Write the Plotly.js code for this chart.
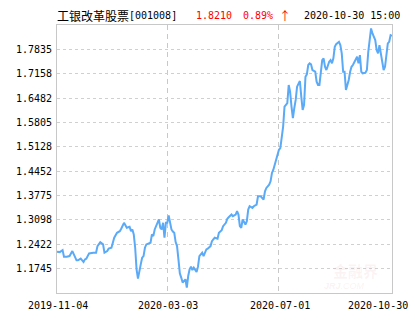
<!DOCTYPE html>
<html>
<head>
<meta charset="utf-8">
<script src="https://cdn.plot.ly/plotly-3.0.1.min.js"></script>
<style>html,body{margin:0;padding:0;background:#fff;}#chart{width:415px;height:330px;}</style>
</head>
<body>
<div id="chart"></div>
<script>
// trading-day index (0 = 2019-11-04, 240 = 2020-10-30)
const days = [0,2,4,5,7,9,11,12,14,15,17,19,20,21,23,26,28,29,31,33,34,36,37,39,40,41,43,45,46,48,50,52,53,54,55,56,57,58,60,61,62,63,64,66,67,68,69,70,72,73,74,75,76,77,78,79,80,81,82,83,84,85,86,87,88,89,90,92,93,94,95,96,97,98,100,101,102,104,105,107,108,110,111,112,113,115,116,118,119,121,122,123,125,126,128,129,130,131,132,133,135,136,137,138,140,141,143,144,146,148,149,150,152,153,154,155,157,158,159,160,161,162,163,165,166,167,168,169,170,171,172,174,175,176,177,178,179,180,181,182,183,185,186,187,188,189,190,191,192,193,195,196,197,198,199,200,202,203,204,205,206,207,209,210,211,212,213,215,216,217,218,219,221,222,223,224,225,226,228,229,230,231,232,233,234,235,236,237,238,239,240];
// unit NAV
const nav = [1.2216,1.2204,1.2260,1.2077,1.2077,1.2094,1.2232,1.2141,1.1975,1.1975,1.2022,1.1928,1.2002,1.2022,1.2168,1.2188,1.2188,1.2371,1.2481,1.2418,1.2188,1.2232,1.2299,1.2326,1.2509,1.2603,1.2741,1.2786,1.2852,1.3018,1.2880,1.2907,1.2786,1.2833,1.2694,1.2326,1.1726,1.1468,1.1864,1.2049,1.2094,1.2326,1.2418,1.2465,1.2465,1.2694,1.2647,1.2833,1.3018,1.3110,1.2880,1.2833,1.3018,1.2603,1.3018,1.3018,1.3220,1.3062,1.2833,1.2777,1.2741,1.2481,1.2371,1.2002,1.1615,1.1496,1.1358,1.1449,1.1219,1.1540,1.1726,1.1800,1.1706,1.1773,1.1651,1.1800,1.2094,1.2188,1.2094,1.2279,1.2299,1.2371,1.2509,1.2556,1.2603,1.2575,1.2741,1.2813,1.2924,1.3018,1.3129,1.3173,1.3248,1.3201,1.3248,1.3339,1.3248,1.2924,1.2880,1.3110,1.2971,1.3062,1.3386,1.3478,1.3433,1.3478,1.3525,1.3754,1.3754,1.3663,1.3893,1.3987,1.4078,1.4170,1.4402,1.4493,1.4770,1.4862,1.5047,1.5094,1.5415,1.5692,1.6245,1.6340,1.6846,1.6661,1.6245,1.5924,1.6201,1.6431,1.6799,1.6957,1.6522,1.6154,1.6292,1.7076,1.7142,1.7400,1.7447,1.7419,1.7261,1.7214,1.6937,1.6846,1.6846,1.7214,1.7538,1.7585,1.7352,1.7261,1.7491,1.7538,1.7447,1.7585,1.7906,1.7981,1.8045,1.7953,1.7723,1.7214,1.7214,1.6708,1.6984,1.7214,1.7352,1.7400,1.7491,1.7629,1.7447,1.7676,1.7214,1.7170,1.7186,1.7261,1.7768,1.8183,1.8415,1.8277,1.8092,1.7815,1.7723,1.7953,1.7676,1.7538,1.7261,1.7352,1.7629,1.8000,1.8045,1.8230,1.8210];

const xTickDays = [0,79,159,240];
const xTickLabels = ['2019-11-04','2020-03-03','2020-07-01','2020-10-30'];
const yTickLabels = ['1.1745','1.2422','1.3098','1.3775','1.4452','1.5128','1.5805','1.6482','1.7158','1.7835'];
const yRange = [1.1068, 1.8512];

const fundName = '工银改革股票';
const fundCode = '[001008]';
const lastNav = '1.8210';
const lastChange = '0.89%';
const lastArrow = '↑';
const lastTime = '2020-10-30 15:00';

const mono = 'DejaVu Sans Mono, monospace';
const trace = {
  x: days, y: nav, type: 'scatter', mode: 'lines',
  line: {color: '#5aaaf7', width: 2}, hoverinfo: 'skip'
};

const annotations = [];
xTickDays.forEach((d, i) => {
  const last = i === xTickDays.length - 1;
  annotations.push({
    x: d, xref: 'x', y: 0, yref: 'paper', yanchor: 'top', yshift: -5,
    xanchor: last ? 'right' : 'center', xshift: last ? 18 : 1,
    text: xTickLabels[i], showarrow: false,
    font: {family: mono, size: 10, color: '#000'}
  });
});
const W = 335, H = 268, L = 57, T = 25;
function px(x){ return (x - L) / W; }
function py(y){ return (T + H - y) / H; }
const titleY = py(15.5);
function titleText(x, text, family, size, color, ya) {
  annotations.push({x: px(x), y: ya === undefined ? titleY : ya, xref:'paper', yref:'paper', xanchor:'left', yanchor:'middle',
    text: text, showarrow:false, font:{family: family, size: size, color: color}});
}
titleText(55, fundName, 'Noto Sans CJK SC', 12, '#000');
titleText(127, fundCode, mono, 10, '#000');
titleText(194, lastNav, mono, 10, '#ff0000');
titleText(241, lastChange, mono, 10, '#ff0000');
titleText(276.5, lastArrow, 'Noto Sans CJK SC', 12, '#ff0000', py(15));
titleText(301.5, lastTime, mono, 10, '#000');
// watermark
annotations.push({x: px(355), y: py(270), xref:'paper', yref:'paper', xanchor:'center', yanchor:'middle', text: '<b>金融界</b>', showarrow:false, font:{family:'Noto Sans CJK SC', size:15, color:'rgba(230,160,160,0.13)'}});
annotations.push({x: px(344), y: py(286), xref:'paper', yref:'paper', xanchor:'center', yanchor:'middle', text: '<i><b>JRJ</b>.COM</i>', showarrow:false, font:{family:'Liberation Sans', size:9, color:'rgba(230,160,160,0.15)'}});

const layout = {
  width: 415, height: 330,
  margin: {l: L, r: 415 - L - W, t: T, b: 330 - T - H, pad: 0},
  paper_bgcolor: '#fff', plot_bgcolor: '#fff',
  showlegend: false,
  xaxis: {
    range: [xTickDays[0], xTickDays[xTickDays.length - 1]],
    tickmode: 'array', tickvals: xTickDays.slice(1, -1), showticklabels: false,
    showgrid: true, gridcolor: '#c8c8c8', griddash: '5px,4px', gridwidth: 1,
    showline: true, linecolor: '#c8c8c8', linewidth: 1, mirror: true,
    zeroline: false, ticks: '', fixedrange: true
  },
  yaxis: {
    range: yRange,
    tickmode: 'array', tickvals: yTickLabels.map(Number), ticktext: yTickLabels,
    showgrid: true, gridcolor: '#d0d0d0', griddash: '3px,3px', gridwidth: 1,
    showline: true, linecolor: '#c8c8c8', linewidth: 1, mirror: true,
    zeroline: false, ticks: 'outside', ticklen: 2, tickcolor: 'rgba(0,0,0,0)',
    tickfont: {family: mono, size: 10, color: '#000'}, fixedrange: true
  },
  annotations: annotations
};
Plotly.newPlot('chart', [trace], layout, {staticPlot: true, displayModeBar: false});
</script>
</body>
</html>
